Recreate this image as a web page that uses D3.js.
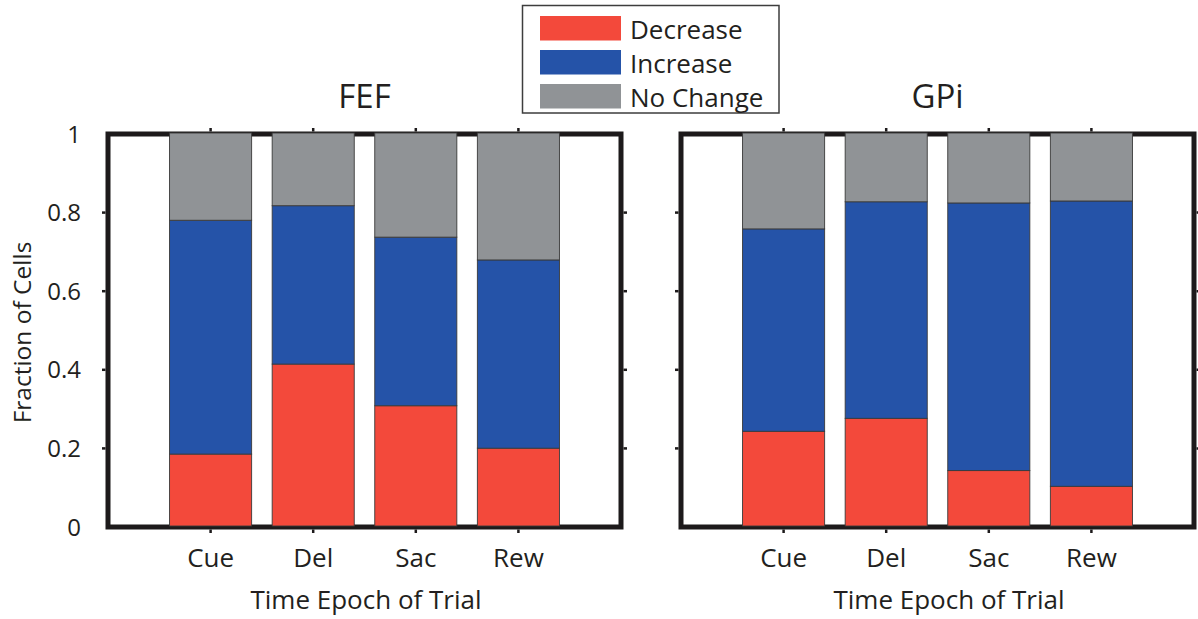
<!DOCTYPE html>
<html><head><meta charset="utf-8">
<script src="https://cdn.jsdelivr.net/npm/d3@7"></script>
<style>body{margin:0;background:#fff}text{font-family:"Open Sans",sans-serif;fill:#231f20}</style>
</head><body><svg id="c" width="1198" height="619"></svg>
<script>
const categories = ["Cue", "Del", "Sac", "Rew"];
const seriesNames = ["Decrease", "Increase", "No Change"];
const seriesColors = ["#f3493b", "#2553a8", "#909396"];
const fefDecrease = [0.183, 0.412, 0.306, 0.198];
const fefIncrease = [0.595, 0.403, 0.429, 0.479];
const fefNoChange = [0.222, 0.185, 0.265, 0.323];
const gpiDecrease = [0.241, 0.274, 0.141, 0.101];
const gpiIncrease = [0.515, 0.551, 0.681, 0.726];
const gpiNoChange = [0.244, 0.175, 0.178, 0.173];
const yTickValues = [0, 0.2, 0.4, 0.6, 0.8, 1];
const yTickLabels = ["0", "0.2", "0.4", "0.6", "0.8", "1"];
const panelTitles = ["FEF", "GPi"];
const xTitle = "Time Epoch of Trial";
const yTitle = "Fraction of Cells";

(function () {
const svg = d3.select("#c");
const frameColor = "#1d1a1b";
const panels = [
  {title: panelTitles[0], x0: 108, x1: 621, xt: 366, dec: fefDecrease, inc: fefIncrease, nc: fefNoChange, ylabels: true},
  {title: panelTitles[1], x0: 681, x1: 1194, xt: 949, dec: gpiDecrease, inc: gpiIncrease, nc: gpiNoChange, ylabels: false}
];
const yTop = 134, yBot = 527;
const y = d3.scaleLinear().domain([0, 1]).range([yBot - 1, yTop - 1]);
const yT = d3.scaleLinear().domain([0, 1]).range([yBot, yTop]);

panels.forEach(p => {
  const x = d3.scaleLinear().domain([0, categories.length + 1]).range([p.x0, p.x1]);
  const g = svg.append("g");
  const rows = categories.map((c, i) => ({cat: c, i: i, "Decrease": p.dec[i], "Increase": p.inc[i], "No Change": p.nc[i]}));
  const stacked = d3.stack().keys(seriesNames)(rows);

  const tl = 3.5, lw = 5;
  categories.forEach((c, i) => {
    const cx = x(i + 1);
    g.append("line").attr("x1", cx).attr("x2", cx).attr("y1", yTop - lw/2).attr("y2", yTop - lw/2 - tl).attr("stroke", frameColor).attr("stroke-width", 2.5);
    g.append("line").attr("x1", cx).attr("x2", cx).attr("y1", yBot + lw/2).attr("y2", yBot + lw/2 + tl).attr("stroke", frameColor).attr("stroke-width", 2.5);
  });
  yTickValues.slice(1, -1).forEach(v => {
    const cy = yT(v);
    g.append("line").attr("x1", p.x0 - lw/2).attr("x2", p.x0 - lw/2 - tl).attr("y1", cy).attr("y2", cy).attr("stroke", frameColor).attr("stroke-width", 2.5);
    g.append("line").attr("x1", p.x1 + lw/2).attr("x2", p.x1 + lw/2 + tl).attr("y1", cy).attr("y2", cy).attr("stroke", frameColor).attr("stroke-width", 2.5);
  });

  g.append("rect").attr("x", p.x0).attr("y", yTop).attr("width", p.x1 - p.x0).attr("height", yBot - yTop)
    .attr("fill", "#fff").attr("stroke", frameColor).attr("stroke-width", lw);

  const bw = x(0.8) - x(0);
  stacked.forEach((s, si) => {
    g.selectAll(null).data(s).enter().append("rect")
      .attr("x", d => x(d.data.i + 1) - bw / 2)
      .attr("width", bw)
      .attr("y", d => y(d[1]))
      .attr("height", d => y(d[0]) - y(d[1]))
      .attr("fill", seriesColors[si])
      .attr("stroke", "#3a3a3a").attr("stroke-width", 0.9);
  });

  categories.forEach((c, i) => {
    g.append("text").attr("x", x(i + 1)).attr("y", 567).attr("text-anchor", "middle")
      .attr("font-size", 26).text(c);
  });
  g.append("text").attr("x", p.xt).attr("y", 609).attr("text-anchor", "middle").attr("font-size", 26).text(xTitle);
  g.append("text").attr("x", (p.x0 + p.x1) / 2).attr("y", 108).attr("text-anchor", "middle").attr("font-size", 33).text(p.title);

  if (p.ylabels) {
    yTickValues.forEach((v, k) => {
      g.append("text").attr("x", 81).attr("y", yT(v)).attr("dy", "0.36em").attr("text-anchor", "end")
        .attr("font-size", 24).text(yTickLabels[k]);
    });
    g.append("text").attr("transform", `translate(31,${(yTop + yBot) / 2 + 2}) rotate(-90)`)
      .attr("text-anchor", "middle").attr("font-size", 24.5).text(yTitle);
  }
});

const lg = svg.append("g");
lg.append("rect").attr("x", 522.5).attr("y", 5.5).attr("width", 256.5).attr("height", 107.5)
  .attr("fill", "#fff").attr("stroke", "#3d3d3d").attr("stroke-width", 1.5);
seriesNames.forEach((n, i) => {
  lg.append("rect").attr("x", 540).attr("y", 16 + i * 34).attr("width", 81).attr("height", 24.5).attr("fill", seriesColors[i]);
  lg.append("text").attr("x", 630).attr("y", 38.5 + i * 34).attr("font-size", 26).text(n);
});
})();
</script></body></html>
